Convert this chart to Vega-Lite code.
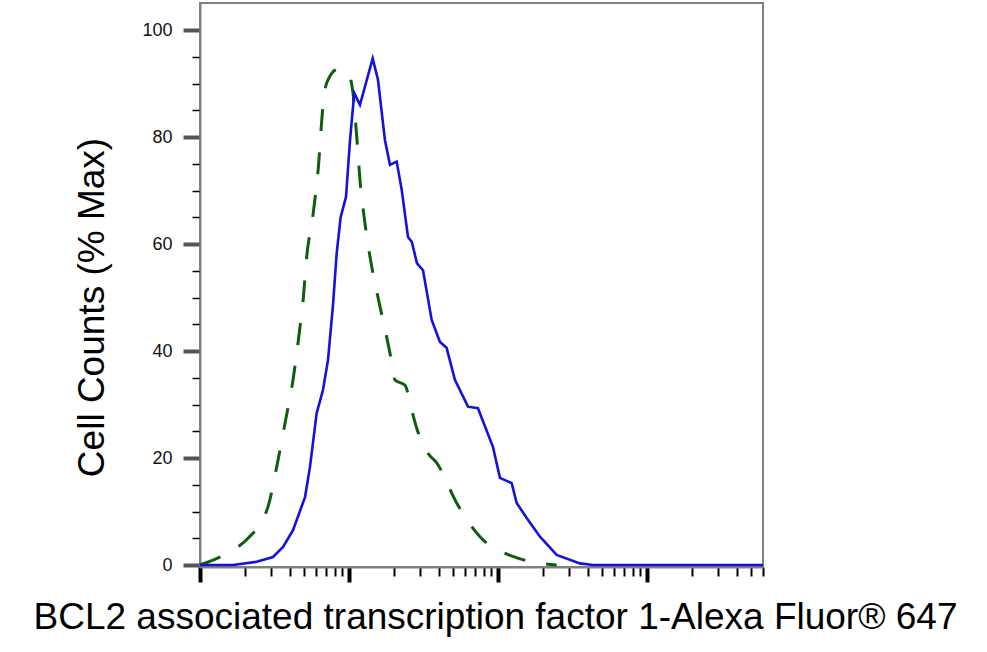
{
  "$schema": "https://vega.github.io/schema/vega-lite/v6.json",
  "autosize": {"type": "none"},
  "padding": {"left": 200, "top": 3, "right": 224, "bottom": 85},
  "width": 563,
  "height": 564,
  "background": "white",
  "config": {
    "font": "Liberation Sans",
    "view": {"stroke": "#808080", "strokeWidth": 2}
  },
  "datasets": {
    "isotype": [
      {"intensity": 10, "pct": 0},
      {"intensity": 12.2, "pct": 0.9},
      {"intensity": 17.6, "pct": 3.2},
      {"intensity": 21, "pct": 5},
      {"intensity": 28.6, "pct": 10.9},
      {"intensity": 32.7, "pct": 18.3},
      {"intensity": 37.2, "pct": 26.5},
      {"intensity": 42.1, "pct": 34.6},
      {"intensity": 46.9, "pct": 44.5},
      {"intensity": 49.1, "pct": 49.2},
      {"intensity": 52, "pct": 57.6},
      {"intensity": 57.3, "pct": 65.4},
      {"intensity": 61.9, "pct": 73.5},
      {"intensity": 66.9, "pct": 85.7},
      {"intensity": 70.8, "pct": 90.1},
      {"intensity": 84.4, "pct": 92.7},
      {"intensity": 98.4, "pct": 92},
      {"intensity": 106.4, "pct": 88.2},
      {"intensity": 112.7, "pct": 80.1},
      {"intensity": 118.5, "pct": 72},
      {"intensity": 128, "pct": 63.9},
      {"intensity": 142, "pct": 55.8},
      {"intensity": 161.5, "pct": 48.3},
      {"intensity": 188.4, "pct": 39.6},
      {"intensity": 203.6, "pct": 34.6},
      {"intensity": 237.7, "pct": 33.6},
      {"intensity": 263.6, "pct": 29},
      {"intensity": 284.6, "pct": 25.6},
      {"intensity": 338.8, "pct": 20.9},
      {"intensity": 387.9, "pct": 19.1},
      {"intensity": 528, "pct": 11.6},
      {"intensity": 757, "pct": 5.3},
      {"intensity": 1259, "pct": 1.6},
      {"intensity": 2477, "pct": 0}
    ],
    "stained": [
      {"intensity": 10, "pct": 0},
      {"intensity": 16.7, "pct": 0},
      {"intensity": 24, "pct": 0.6},
      {"intensity": 30.9, "pct": 1.5},
      {"intensity": 36.1, "pct": 3.4},
      {"intensity": 42.1, "pct": 6.5},
      {"intensity": 50.7, "pct": 12.7},
      {"intensity": 54.7, "pct": 18.3},
      {"intensity": 60.7, "pct": 28.4},
      {"intensity": 66.9, "pct": 32.7},
      {"intensity": 72.3, "pct": 38.3},
      {"intensity": 78.1, "pct": 48.6},
      {"intensity": 82.7, "pct": 58.3},
      {"intensity": 87.9, "pct": 65},
      {"intensity": 95.5, "pct": 68.8},
      {"intensity": 101.6, "pct": 79.4},
      {"intensity": 108.5, "pct": 88.2},
      {"intensity": 118.5, "pct": 86},
      {"intensity": 144.3, "pct": 94.7},
      {"intensity": 156.5, "pct": 90.7},
      {"intensity": 174.4, "pct": 79.4},
      {"intensity": 188.4, "pct": 74.8},
      {"intensity": 209, "pct": 75.4},
      {"intensity": 226, "pct": 70.1},
      {"intensity": 249, "pct": 61.3},
      {"intensity": 264, "pct": 60.4},
      {"intensity": 286, "pct": 56.4},
      {"intensity": 314, "pct": 55.1},
      {"intensity": 359, "pct": 45.8},
      {"intensity": 408, "pct": 41.7},
      {"intensity": 452, "pct": 40.6},
      {"intensity": 514, "pct": 34.6},
      {"intensity": 629, "pct": 29.6},
      {"intensity": 734, "pct": 29.3},
      {"intensity": 925, "pct": 22.1},
      {"intensity": 1031, "pct": 16.3},
      {"intensity": 1236, "pct": 15.3},
      {"intensity": 1335, "pct": 11.6},
      {"intensity": 1559, "pct": 8.8},
      {"intensity": 1914, "pct": 5.3},
      {"intensity": 2477, "pct": 1.9},
      {"intensity": 3548, "pct": 0.3},
      {"intensity": 4345, "pct": 0},
      {"intensity": 10470, "pct": 0},
      {"intensity": 60100, "pct": 0}
    ]
  },
  "encoding": {
    "x": {
      "field": "intensity",
      "type": "quantitative",
      "scale": {"type": "log", "domain": [10, 60100], "nice": false},
      "axis": {
        "title": "BCL2 associated transcription factor 1-Alexa Fluor® 647",
        "titleFontSize": 37,
        "titleFontWeight": "normal",
        "titleColor": "#000000",
        "titleX": 295,
        "titleY": 61,
        "titleAlign": "center",
        "titleBaseline": "alphabetic",
        "labels": false,
        "grid": false,
        "domainColor": "#808080",
        "domainWidth": 2,
        "values": [10, 20, 30, 40, 50, 60, 70, 80, 90, 100, 200, 300, 400, 500, 600, 700, 800, 900, 1000, 2000, 3000, 4000, 5000, 6000, 7000, 8000, 9000, 10000, 20000, 30000, 40000, 50000, 60000],
        "tickColor": "#000000",
        "tickSize": {"condition": {"test": "indexof([10, 100, 1000, 10000], datum.value) >= 0", "value": 15}, "value": 9},
        "tickWidth": {"condition": {"test": "indexof([10, 100, 1000, 10000], datum.value) >= 0", "value": 4}, "value": 2}
      }
    },
    "y": {
      "field": "pct",
      "type": "quantitative",
      "scale": {"domain": [-0.37, 105.05], "nice": false, "zero": false},
      "axis": {
        "title": "Cell Counts (% Max)",
        "titleFontSize": 37,
        "titleFontWeight": "normal",
        "titleColor": "#000000",
        "titleAngle": -90,
        "titleX": -97,
        "titleY": 304,
        "titleAlign": "center",
        "titleBaseline": "alphabetic",
        "grid": false,
        "domainColor": "#808080",
        "domainWidth": 2,
        "values": [0, 5, 10, 15, 20, 25, 30, 35, 40, 45, 50, 55, 60, 65, 70, 75, 80, 85, 90, 95, 100],
        "labelExpr": "datum.value % 20 === 0 ? datum.label : ''",
        "labelFontSize": 18,
        "labelColor": "#111111",
        "labelPadding": 11,
        "labelBaseline": "middle",
        "tickSize": {"condition": {"test": "datum.value % 20 === 0", "value": 17}, "value": 8},
        "tickWidth": {"condition": {"test": "datum.value % 20 === 0", "value": 4}, "value": 1.5},
        "tickColor": {"condition": {"test": "datum.value % 20 === 0", "value": "#555555"}, "value": "#000000"}
      }
    }
  },
  "layer": [
    {
      "data": {"name": "isotype"},
      "mark": {"type": "line", "color": "#0d5e0d", "strokeWidth": 3, "strokeDash": [22, 21], "interpolate": "monotone"}
    },
    {
      "data": {"name": "stained"},
      "mark": {"type": "line", "color": "#1212dc", "strokeWidth": 2.6}
    }
  ]
}
